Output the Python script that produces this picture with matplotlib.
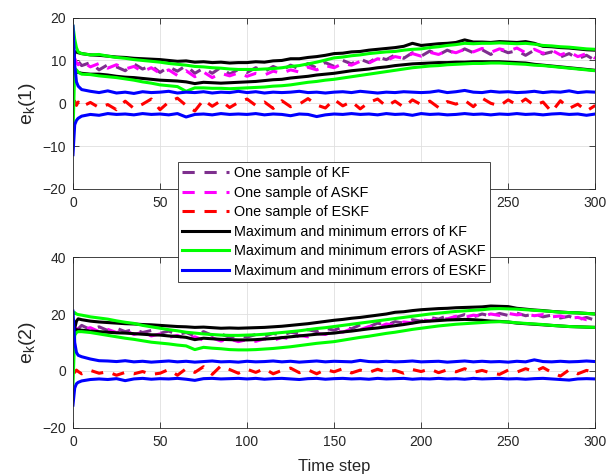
import numpy as np
import matplotlib
matplotlib.use('Agg')
import matplotlib.pyplot as plt

plt.rcParams['font.family'] = ['Liberation Sans', 'DejaVu Sans']
plt.rcParams['mathtext.fontset'] = 'custom'
plt.rcParams['mathtext.rm'] = 'Liberation Sans'
plt.rcParams['mathtext.default'] = 'regular'

t = [0, 1, 2, 3] + list(range(5, 301, 5))

# ---------------- e_k(1) ----------------
kf1 = [7, 9.5, 8.5, 9.8, 8.8, 9.5, 7.8, 9.0, 8.5, 7.6, 9.2, 8.0, 8.8, 7.2, 8.5, 7.5,
       8.8, 7.0, 8.2, 7.0, 8.4, 6.8, 7.9, 7.2, 8.3, 7.4, 8.6, 7.7, 8.9, 8.0, 9.3, 8.2,
       9.5, 8.6, 10.0, 9.2, 10.3, 9.5, 10.8, 10.2, 11.3, 10.5, 11.8, 11.0, 12.2, 11.3,
       12.4, 11.6, 12.7, 11.8, 12.5, 11.4, 12.6, 11.8, 12.3, 11.2, 12.4, 11.5, 12.0,
       10.8, 11.6, 10.4, 11.2, 10.0]
askf1 = [10, 10.5, 9.5, 9.0, 9.8, 8.5, 9.3, 8.2, 9.0, 8.0, 8.6, 7.4, 8.3, 7.0, 7.8, 6.5,
         7.6, 6.2, 7.3, 6.0, 7.0, 6.4, 7.1, 6.3, 7.0, 6.6, 7.5, 7.0, 7.8, 7.3, 8.4, 7.8,
         8.8, 8.3, 9.3, 8.9, 9.8, 9.4, 10.4, 10.0, 10.9, 10.5, 11.6, 11.0, 11.9, 11.4,
         12.3, 11.8, 12.6, 12.0, 12.8, 11.9, 12.7, 12.2, 12.9, 11.8, 12.6, 11.7, 12.4,
         11.3, 12.0, 10.9, 11.6, 10.5]
eskf1 = [0, 0.5, -0.5, 0.3, -0.8, 0.2, -1.0, -0.3, -1.5, 0.5, -1.2, -0.2, 1.0, -1.5,
         0.3, 1.2, -0.5, -1.8, 0.8, -0.7, 0.6, -1.0, 0.2, 1.0, -0.5, 0.3, -1.2, 0.6,
         -0.8, -0.2, 1.1, -0.4, -1.1, 0.9, -0.6, 0.4, -1.3, 0.2, 1.0, -0.7, 0.5, -0.9,
         0.8, -0.3, 0.5, -1.0, 0.4, -0.2, 0.7, -0.8, 1.2, 0.0, -0.6, 0.8, -0.4, 1.0,
         -0.5, 0.3, -2.0, 0.6, -1.2, -0.2, -1.8, -0.5]
kf1_max = [6.5, 12, 12, 11.8, 11.6, 11.3, 11.2, 11.0, 10.8, 10.7, 10.5, 10.4, 10.3,
           10.2, 10.0, 9.8, 9.9, 9.6, 9.7, 9.5, 9.6, 9.4, 9.5, 9.5, 9.7, 9.6, 9.9, 10.0,
           10.4, 10.4, 10.7, 10.9, 11.2, 11.6, 11.7, 12.0, 12.1, 12.4, 12.6, 12.8, 13.0,
           13.3, 14.0, 13.5, 13.7, 13.9, 14.0, 14.2, 14.8, 14.3, 14.3, 14.2, 14.4, 14.3,
           14.2, 14.4, 14.0, 13.3, 13.2, 13.0, 12.9, 12.7, 12.5, 12.4]
kf1_min = [6.5, 7, 7.3, 7.2, 7.0, 6.8, 6.8, 6.6, 6.3, 6.1, 6.0, 5.8, 5.6, 5.4, 5.3, 5.2,
           5.0, 4.6, 4.9, 4.8, 4.7, 4.8, 4.9, 5.0, 5.1, 5.3, 5.5, 5.6, 5.9, 6.1, 6.3, 6.6,
           6.8, 7.0, 7.3, 7.6, 7.8, 8.0, 8.3, 8.5, 8.8, 9.0, 9.2, 9.3, 9.4, 9.5, 9.5, 9.6,
           9.6, 9.7, 9.7, 9.7, 9.7, 9.6, 9.5, 9.4, 9.1, 8.9, 8.7, 8.5, 8.3, 8.1, 7.9, 7.7]
askf1_max = [18, 15, 13, 12, 11.6, 11.3, 11.4, 11.0, 10.7, 10.5, 10.2, 10.0, 9.8, 9.6,
             9.3, 9.1, 8.9, 8.6, 8.5, 8.3, 8.2, 8.0, 7.9, 7.9, 7.9, 8.0, 8.1, 8.3, 8.6,
             8.8, 9.2, 9.6, 10.1, 10.6, 10.8, 11.1, 11.3, 11.6, 11.8, 12.0, 12.1, 12.4,
             12.6, 12.7, 13.0, 13.2, 13.5, 13.7, 14.0, 13.9, 14.0, 14.0, 14.1, 14.0, 13.9,
             14.0, 13.8, 13.5, 13.4, 13.2, 13.1, 12.9, 12.7, 12.6]
askf1_min = [-7.5, 8.0, 7.8, 7.3, 6.8, 6.7, 6.4, 6.2, 6.0, 5.7, 5.4, 5.0, 4.7, 4.3, 4.1,
             3.9, 2.8, 3.6, 3.6, 3.5, 3.5, 3.4, 3.5, 3.6, 3.7, 3.8, 4.0, 4.1, 4.3, 4.6,
             4.9, 5.1, 5.4, 5.6, 5.9, 6.2, 6.5, 6.8, 7.1, 7.4, 7.7, 8.0, 8.3, 8.5, 8.7,
             8.8, 9.0, 9.1, 9.2, 9.3, 9.3, 9.4, 9.4, 9.3, 9.2, 9.1, 8.9, 8.8, 8.6, 8.4,
             8.2, 8.0, 7.8, 7.6]
eskf1_max = [18, 9, 5, 4, 3.2, 2.8, 2.5, 2.9, 2.4, 2.6, 2.3, 2.7, 2.5, 2.6, 2.8, 2.4,
             2.6, 2.5, 2.7, 2.4, 2.6, 2.5, 2.8, 2.5, 2.7, 2.4, 2.6, 2.5, 2.6, 2.8, 2.5,
             2.6, 2.4, 2.6, 2.7, 2.5, 2.8, 2.6, 2.4, 2.6, 2.5, 2.7, 2.6, 2.5, 2.6, 2.9,
             2.5, 2.7, 3.0, 2.6, 2.5, 2.8, 2.6, 2.7, 2.5, 2.6, 2.8, 2.5, 2.7, 2.6, 2.9,
             2.5, 2.7, 2.6]
eskf1_min = [-12, -5, -4, -3.5, -3.0, -2.6, -2.8, -2.4, -2.6, -2.5, -2.7, -2.4, -2.6,
             -2.5, -2.7, -2.4, -3.2, -2.6, -2.5, -2.7, -2.4, -2.6, -2.5, -2.6, -2.4,
             -2.7, -2.5, -2.6, -2.9, -2.5, -2.6, -3.1, -2.7, -2.5, -2.6, -2.4, -2.6,
             -2.5, -2.7, -2.4, -2.6, -2.5, -2.8, -2.4, -2.6, -2.5, -2.7, -2.6, -2.4,
             -2.6, -2.5, -2.7, -2.5, -2.6, -2.4, -2.6, -2.5, -2.7, -2.5, -2.4, -2.6,
             -2.5, -2.8, -2.5]

# ---------------- e_k(2) ----------------
kf2 = [9, 14, 15.5, 14.8, 16.0, 14.5, 15.5, 14.2, 15.0, 13.8, 14.6, 13.5, 14.2, 13.2,
       14.0, 12.8, 13.5, 12.3, 13.8, 12.5, 13.0, 11.8, 12.6, 11.9, 12.8, 12.2, 13.2,
       12.5, 13.6, 13.0, 14.5, 13.8, 15.0, 14.3, 15.5, 14.8, 16.2, 15.5, 16.8, 16.0,
       17.3, 16.8, 18.0, 17.5, 18.8, 18.2, 19.4, 18.8, 19.8, 19.0, 20.0, 19.3, 20.2,
       19.5, 20.3, 19.4, 20.0, 19.0, 19.6, 18.6, 19.2, 18.0, 18.8, 17.8]
askf2 = [13, 15, 14.2, 15.3, 14.5, 15.2, 13.8, 14.6, 13.5, 14.2, 12.8, 13.6, 12.3, 13.0,
         11.8, 12.5, 11.2, 12.0, 10.8, 11.6, 10.5, 11.2, 10.3, 11.0, 10.4, 11.3, 10.7,
         11.8, 11.2, 12.5, 12.0, 13.2, 12.8, 14.0, 13.6, 14.8, 14.5, 15.6, 15.3, 16.5,
         16.1, 17.2, 16.9, 18.0, 17.6, 18.6, 18.3, 19.2, 18.8, 19.6, 19.2, 20.0, 19.5,
         20.2, 19.7, 20.0, 19.4, 19.8, 19.0, 19.3, 18.5, 18.8, 18.0, 18.2]
eskf2 = [0, -0.5, 0.3, -0.2, -1.0, 0.2, -0.8, -0.3, -1.5, -0.5, -1.0, -0.2, -1.2, -0.8,
         0.5, -1.5, 0.8, -0.5, 1.5, -1.2, 1.8, 0.5, -0.8, 0.6, -0.5, 0.8, -1.0, 0.2,
         1.0, -0.6, 0.4, -1.0, 0.5, -0.3, 0.8, -0.7, 0.3, -0.5, 0.6, -0.4, 0.2, -0.8,
         0.5, -0.2, 0.7, -0.6, 0.4, -0.3, 0.8, -0.5, 0.2, -0.7, -1.2, 0.3, -0.4, 0.8,
         -0.2, 1.2, -0.5, -1.8, 0.4, -1.0, 0.2, -0.6]
kf2_max = [7, 15, 17.5, 18.3, 18.0, 17.5, 17.2, 17.0, 16.8, 16.6, 16.5, 16.3, 16.2,
           16.0, 15.8, 15.6, 15.5, 15.3, 15.4, 15.2, 15.0, 15.1, 15.0, 15.1, 15.2, 15.3,
           15.5, 15.7, 16.0, 16.3, 16.6, 17.0, 17.4, 17.8, 18.1, 18.5, 18.8, 19.2, 19.6,
           20.0, 20.6, 20.8, 21.2, 21.5, 21.7, 21.9, 22.0, 22.2, 22.3, 22.4, 22.5, 22.8,
           22.7, 22.6, 22.0, 21.7, 21.4, 21.2, 20.9, 20.7, 20.5, 20.4, 20.2, 20.0]
kf2_min = [7, 13.5, 14.5, 14.4, 14.3, 14.0, 13.8, 13.6, 13.4, 13.3, 13.1, 12.9, 12.7,
           12.6, 12.3, 12.1, 11.8, 11.0, 11.5, 11.3, 11.1, 11.0, 10.9, 10.9, 11.0, 11.2,
           11.4, 11.7, 12.0, 12.3, 12.6, 12.9, 13.1, 13.3, 13.7, 14.0, 14.4, 14.8, 15.1,
           15.5, 15.9, 16.3, 16.8, 17.3, 17.5, 17.7, 17.9, 18.0, 18.1, 18.0, 17.8, 17.5,
           17.4, 17.2, 16.8, 16.6, 16.4, 16.2, 16.0, 15.8, 15.6, 15.5, 15.4, 15.3]
askf2_max = [20, 20.5, 20, 19.8, 19.6, 19.0, 18.6, 18.2, 17.6, 17.1, 16.7, 16.0, 15.5,
             15.0, 14.5, 14.1, 13.6, 13.3, 13.0, 12.8, 12.6, 12.5, 12.5, 12.6, 12.7, 12.9,
             13.2, 13.5, 13.8, 14.1, 14.5, 14.9, 15.2, 15.6, 16.0, 16.4, 16.8, 17.2, 17.6,
             18.0, 18.4, 18.8, 19.2, 19.6, 20.0, 20.3, 20.6, 20.9, 21.1, 21.3, 21.5, 21.8,
             21.9, 21.8, 21.7, 21.5, 21.3, 21.1, 20.9, 20.6, 20.5, 20.4, 20.2, 20.0]
askf2_min = [-5, 12.5, 13.5, 13.8, 13.8, 13.5, 13.0, 12.5, 12.0, 11.5, 11.1, 10.6, 10.1,
             9.8, 9.5, 9.1, 8.8, 7.5, 8.3, 8.0, 7.8, 7.5, 7.4, 7.4, 7.5, 7.7, 7.9, 8.2,
             8.5, 8.9, 9.3, 9.7, 10.0, 10.3, 10.8, 11.3, 11.8, 12.2, 12.7, 13.2, 13.6,
             14.1, 14.6, 15.0, 15.4, 15.8, 16.1, 16.4, 16.6, 16.8, 17.0, 17.2, 17.3, 17.2,
             16.9, 16.7, 16.5, 16.3, 16.0, 15.8, 15.6, 15.5, 15.4, 15.3]
eskf2_max = [21, 10, 6.5, 5.5, 5.0, 4.2, 3.6, 3.5, 3.3, 3.6, 3.2, 3.4, 3.1, 3.3, 3.5, 3.2,
             3.4, 3.1, 3.3, 3.5, 3.2, 3.3, 3.1, 3.4, 3.2, 3.3, 3.5, 3.2, 3.4, 3.1, 3.3,
             3.5, 3.2, 3.4, 3.3, 3.2, 3.7, 3.3, 3.2, 3.4, 3.2, 3.3, 3.5, 3.2, 3.3, 3.4,
             3.1, 3.3, 3.5, 3.2, 3.4, 3.2, 3.3, 3.1, 3.4, 3.2, 3.9, 3.3, 3.2, 3.4, 3.2,
             3.3, 3.5, 3.3]
eskf2_min = [-12, -6, -4.5, -4.0, -3.5, -3.0, -2.8, -3.0, -2.7, -3.4, -2.8, -2.6, -2.9,
             -2.7, -2.8, -2.6, -2.9, -3.3, -2.7, -2.6, -2.8, -2.7, -2.6, -2.8, -2.6,
             -2.9, -2.7, -2.6, -2.8, -3.0, -2.7, -2.6, -2.9, -2.7, -2.6, -2.8, -2.7,
             -2.9, -2.6, -2.8, -2.7, -2.6, -2.9, -2.7, -2.8, -2.6, -2.8, -2.7, -2.9,
             -2.6, -2.8, -2.7, -2.6, -2.8, -2.7, -2.9, -2.7, -2.6, -2.8, -3.0, -3.2,
             -2.8, -2.7, -2.8]

c_kf, c_askf, c_eskf = '#7E2F8E', '#FF00FF', '#FF0000'
c_kfb, c_askfb, c_eskfb = 'black', '#00FF00', '#0000FF'
labels = ['One sample of KF', 'One sample of ASKF', 'One sample of ESKF',
          'Maximum and minimum errors of KF', 'Maximum and minimum errors of ASKF',
          'Maximum and minimum errors of ESKF']

fig = plt.figure(figsize=(6.08, 4.76), dpi=100)
ax1 = fig.add_axes([0.120, 0.603, 0.859, 0.360])
ax2 = fig.add_axes([0.120, 0.101, 0.859, 0.359])

lw = 2.2
dash = (4, 3.2)
panels = [
    (ax1, kf1, askf1, eskf1, kf1_max, kf1_min, askf1_max, askf1_min, eskf1_max, eskf1_min),
    (ax2, kf2, askf2, eskf2, kf2_max, kf2_min, askf2_max, askf2_min, eskf2_max, eskf2_min),
]
handles = None
for ax, s_kf, s_askf, s_eskf, kmx, kmn, amx, amn, emx, emn in panels:
    h1, = ax.plot(t, s_kf, color=c_kf, lw=lw, dashes=dash)
    h2, = ax.plot(t, s_askf, color=c_askf, lw=lw, dashes=dash)
    h3, = ax.plot(t, s_eskf, color=c_eskf, lw=lw, dashes=dash)
    h4, = ax.plot(t, kmx, color=c_kfb, lw=lw)
    ax.plot(t, kmn, color=c_kfb, lw=lw)
    h5, = ax.plot(t, amx, color=c_askfb, lw=lw)
    ax.plot(t, amn, color=c_askfb, lw=lw)
    h6, = ax.plot(t, emx, color=c_eskfb, lw=lw)
    ax.plot(t, emn, color=c_eskfb, lw=lw)
    if handles is None:
        handles = [h1, h2, h3, h4, h5, h6]
    ax.set_xlim(0, 300)
    ax.set_xticks(range(0, 301, 50))
    ax.grid(True, color='#DFDFDF', lw=0.6)
    ax.set_axisbelow(True)
    ax.tick_params(direction='in', length=4, top=True, right=True, labelsize=10,
                   colors='#262626', width=0.6, pad=5)
    for sp in ax.spines.values():
        sp.set_color('#262626')
        sp.set_linewidth(0.6)

ax1.set_ylim(-20, 20)
ax1.set_yticks([-20, -10, 0, 10, 20])
ax2.set_ylim(-20, 40)
ax2.set_yticks([-20, 0, 20, 40])
ax1.set_ylabel('e$_k$(1)', fontsize=14, color='#262626', labelpad=3)
ax2.set_ylabel('e$_k$(2)', fontsize=14, color='#262626', labelpad=3)
ax2.set_xlabel('Time step', fontsize=12, color='#262626', labelpad=7)

leg = fig.legend(handles, labels, loc='upper left', bbox_to_anchor=(178 / 608, 1 - 162 / 476),
                 borderaxespad=0, fontsize=10.4, frameon=True, fancybox=False,
                 edgecolor='#262626', framealpha=1, labelspacing=0.38,
                 handlelength=3.2, handletextpad=0.35, borderpad=0.3)
leg.get_frame().set_linewidth(0.6)

fig.savefig('out.png', dpi=100)
